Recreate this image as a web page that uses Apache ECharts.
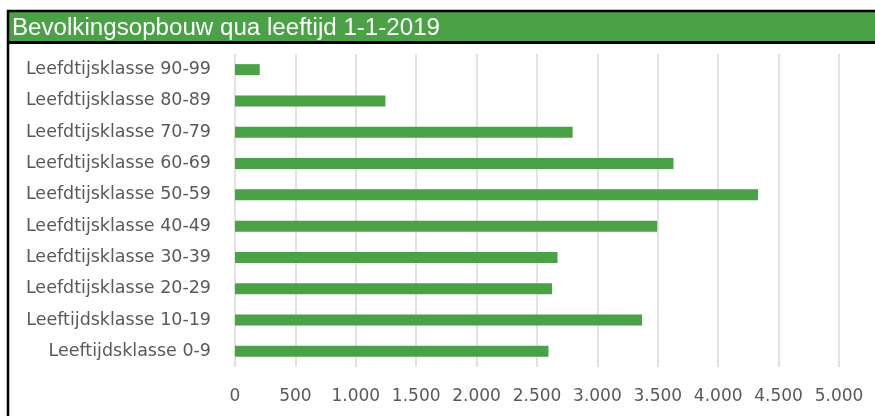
<!DOCTYPE html>
<html>
<head>
<meta charset="utf-8">
<script src="https://cdn.jsdelivr.net/npm/echarts@6/dist/echarts.min.js"></script>
<style>
  html, body { margin: 0; padding: 0; background: #ffffff; }
  #chart { width: 875px; height: 416px; }
</style>
</head>
<body>
<div id="chart"></div>
<script>
// Age groups, bottom to top
const categories = [
  'Leeftijdsklasse 0-9',
  'Leeftijdsklasse 10-19',
  'Leefdtijsklasse 20-29',
  'Leefdtijsklasse 30-39',
  'Leefdtijsklasse 40-49',
  'Leefdtijsklasse 50-59',
  'Leefdtijsklasse 60-69',
  'Leefdtijsklasse 70-79',
  'Leefdtijsklasse 80-89',
  'Leefdtijsklasse 90-99'
];
// Number of inhabitants per age group
const inwoners = [2595, 3370, 2625, 2670, 3495, 4330, 3630, 2795, 1245, 205];
// Axis range and step
const axisMin = 0;
const axisMax = 5000;
const axisStep = 500;
const titleText = 'Bevolkingsopbouw qua leeftijd 1-1-2019';

const green = '#4ba145';
const labelFont = 'DejaVu Sans';

// Header title: fit regular sans to the header width
const titleSize = 23;
const titleWidth = 428;
const ctx = document.createElement('canvas').getContext('2d');
ctx.font = titleSize + 'px "Liberation Sans"';
const titleScale = titleWidth / ctx.measureText(titleText).width;

const fmt = v => String(v).replace(/\B(?=(\d{3})+(?!\d))/g, '.');

const chart = echarts.init(document.getElementById('chart'), null, { renderer: 'canvas' });
chart.setOption({
  animation: false,
  backgroundColor: '#ffffff',
  grid: { left: 235, right: 36, top: 54, bottom: 49, containLabel: false },
  xAxis: {
    type: 'value',
    min: axisMin,
    max: axisMax,
    interval: axisStep,
    axisLine: { show: false },
    axisTick: { show: false },
    splitLine: { lineStyle: { color: '#d9d9d9', width: 1.5 } },
    axisLabel: {
      formatter: fmt,
      color: '#595959',
      fontFamily: labelFont,
      fontSize: 17,
      margin: 21
    }
  },
  yAxis: {
    type: 'category',
    data: categories,
    axisLine: { show: false },
    axisTick: { show: false },
    axisLabel: {
      color: '#595959',
      fontFamily: labelFont,
      fontSize: 17.5,
      margin: 24
    }
  },
  series: [{
    type: 'bar',
    data: inwoners,
    barWidth: 11,
    itemStyle: { color: green }
  }],
  graphic: [
    {
      type: 'rect',
      silent: true,
      shape: { x: 8, y: 11, width: 880, height: 420 },
      style: { fill: 'none', stroke: '#000000', lineWidth: 2.5 },
      z: 100
    },
    {
      type: 'rect',
      silent: true,
      shape: { x: 9, y: 12, width: 880, height: 30 },
      style: { fill: green, stroke: null },
      z: 99
    },
    {
      type: 'rect',
      silent: true,
      shape: { x: 8, y: 41, width: 880, height: 3 },
      style: { fill: '#000000' },
      z: 100
    },
    {
      type: 'text',
      silent: true,
      x: 12,
      y: 29,
      scaleX: titleScale,
      style: {
        text: titleText,
        fill: '#ffffff',
        font: titleSize + 'px "Liberation Sans"',
        textVerticalAlign: 'middle',
        verticalAlign: 'middle'
      },
      z: 101
    }
  ]
});
</script>
</body>
</html>
